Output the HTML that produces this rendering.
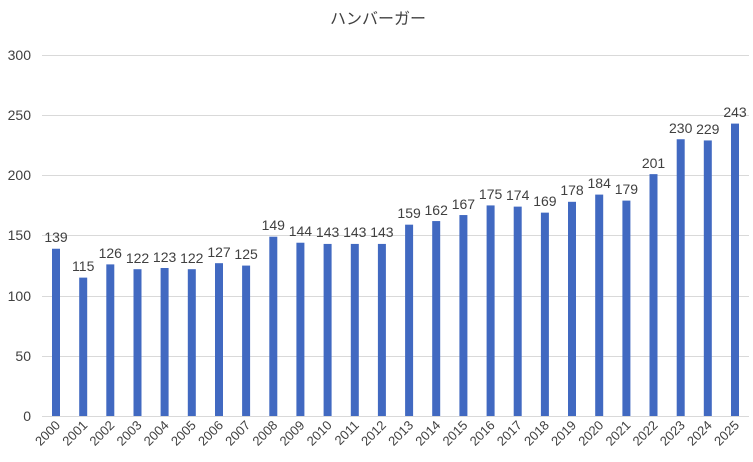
<!DOCTYPE html><html><head><meta charset="utf-8"><style>body{margin:0;background:#fff}svg{display:block}text{font-family:"Liberation Sans","Noto Sans CJK JP",sans-serif;fill:#404040}</style></head><body>
<svg width="753" height="462" xmlns="http://www.w3.org/2000/svg">
<text x="378" y="24" text-anchor="middle" font-size="16" fill="#555">ハンバーガー</text>
<g stroke="#d9d9d9" stroke-width="1">
<line x1="42" x2="749" y1="55.5" y2="55.5"/><line x1="42" x2="749" y1="115.5" y2="115.5"/><line x1="42" x2="749" y1="175.5" y2="175.5"/><line x1="42" x2="749" y1="235.5" y2="235.5"/><line x1="42" x2="749" y1="296.5" y2="296.5"/><line x1="42" x2="749" y1="356.5" y2="356.5"/><line x1="42" x2="749" y1="416.5" y2="416.5"/></g>
<g font-size="14" text-anchor="end"><text x="31" y="60">300</text><text x="31" y="120">250</text><text x="31" y="180">200</text><text x="31" y="240">150</text><text x="31" y="301">100</text><text x="31" y="361">50</text><text x="31" y="421">0</text></g>
<g transform="translate(0,416) scale(1,-1.2033)" fill="#4169c1">
<rect x="52" width="8" height="139"/><rect x="79.2" width="8" height="115"/><rect x="106.3" width="8" height="126"/><rect x="133.5" width="8" height="122"/><rect x="160.6" width="8" height="123"/><rect x="187.8" width="8" height="122"/><rect x="215" width="8" height="127"/><rect x="242.1" width="8" height="125"/><rect x="269.3" width="8" height="149"/><rect x="296.4" width="8" height="144"/><rect x="323.6" width="8" height="143"/><rect x="350.8" width="8" height="143"/><rect x="377.9" width="8" height="143"/><rect x="405.1" width="8" height="159"/><rect x="432.2" width="8" height="162"/><rect x="459.4" width="8" height="167"/><rect x="486.6" width="8" height="175"/><rect x="513.7" width="8" height="174"/><rect x="540.9" width="8" height="169"/><rect x="568" width="8" height="178"/><rect x="595.2" width="8" height="184"/><rect x="622.4" width="8" height="179"/><rect x="649.5" width="8" height="201"/><rect x="676.7" width="8" height="230"/><rect x="703.8" width="8" height="229"/><rect x="731" width="8" height="243"/></g>
<g font-size="14" text-anchor="middle">
<text x="56" y="242">139</text><text x="83.2" y="271">115</text><text x="110.3" y="258">126</text><text x="137.5" y="263">122</text><text x="164.6" y="262">123</text><text x="191.8" y="263">122</text><text x="219" y="257">127</text><text x="246.1" y="259">125</text><text x="273.3" y="230">149</text><text x="300.4" y="236">144</text><text x="327.6" y="237">143</text><text x="354.8" y="237">143</text><text x="381.9" y="237">143</text><text x="409.1" y="218">159</text><text x="436.2" y="215">162</text><text x="463.4" y="209">167</text><text x="490.6" y="199">175</text><text x="517.7" y="200">174</text><text x="544.9" y="206">169</text><text x="572" y="195">178</text><text x="599.2" y="188">184</text><text x="626.4" y="194">179</text><text x="653.5" y="168">201</text><text x="680.7" y="133">230</text><text x="707.8" y="134">229</text><text x="735" y="117">243</text></g>
<g font-size="13" text-anchor="end">
<text transform="translate(61,426) rotate(-45)">2000</text><text transform="translate(88.2,426) rotate(-45)">2001</text><text transform="translate(115.3,426) rotate(-45)">2002</text><text transform="translate(142.5,426) rotate(-45)">2003</text><text transform="translate(169.6,426) rotate(-45)">2004</text><text transform="translate(196.8,426) rotate(-45)">2005</text><text transform="translate(224,426) rotate(-45)">2006</text><text transform="translate(251.1,426) rotate(-45)">2007</text><text transform="translate(278.3,426) rotate(-45)">2008</text><text transform="translate(305.4,426) rotate(-45)">2009</text><text transform="translate(332.6,426) rotate(-45)">2010</text><text transform="translate(359.8,426) rotate(-45)">2011</text><text transform="translate(386.9,426) rotate(-45)">2012</text><text transform="translate(414.1,426) rotate(-45)">2013</text><text transform="translate(441.2,426) rotate(-45)">2014</text><text transform="translate(468.4,426) rotate(-45)">2015</text><text transform="translate(495.6,426) rotate(-45)">2016</text><text transform="translate(522.7,426) rotate(-45)">2017</text><text transform="translate(549.9,426) rotate(-45)">2018</text><text transform="translate(577,426) rotate(-45)">2019</text><text transform="translate(604.2,426) rotate(-45)">2020</text><text transform="translate(631.4,426) rotate(-45)">2021</text><text transform="translate(658.5,426) rotate(-45)">2022</text><text transform="translate(685.7,426) rotate(-45)">2023</text><text transform="translate(712.8,426) rotate(-45)">2024</text><text transform="translate(740,426) rotate(-45)">2025</text></g>
</svg></body></html>
